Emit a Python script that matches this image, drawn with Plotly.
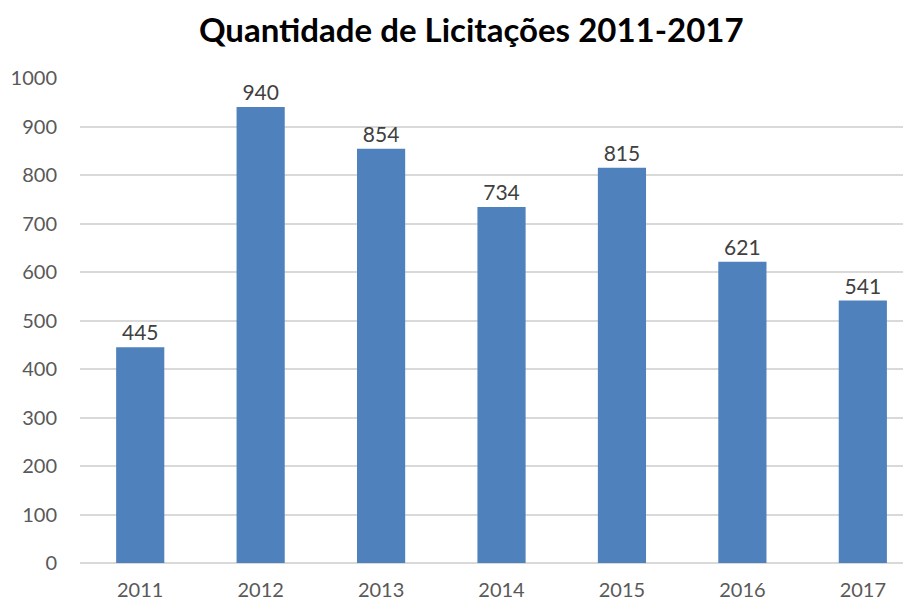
import plotly.graph_objects as go

years = ["2011", "2012", "2013", "2014", "2015", "2016", "2017"]
values = [445, 940, 854, 734, 815, 621, 541]
y_ticks = [0, 100, 200, 300, 400, 500, 600, 700, 800, 900, 1000]

fig = go.Figure(go.Bar(
    x=years, y=values,
    marker=dict(color="#4F81BD", line=dict(width=0)),
    text=[str(v) for v in values],
    textposition="outside",
    textfont=dict(family="Lato", size=21, color="#404040"),
    cliponaxis=False,
))

fig.update_layout(
    width=903, height=594,
    margin=dict(l=72, r=0, t=70, b=39, autoexpand=False),
    paper_bgcolor="white", plot_bgcolor="white",
    bargap=0.6,
    showlegend=False,
    title=dict(text="<b>Quantidade de Licitações 2011-2017</b>",
               x=0.513, xanchor="center", xref="container",
               y=0.962, yanchor="middle", yref="container",
               font=dict(family="Lato", size=33, color="black"),
               automargin=False),
    xaxis=dict(type="category", range=[-0.5, 6.4], showgrid=False,
               showline=False, zeroline=False, automargin=False,
               tickfont=dict(family="Lato", size=20, color="#595959"),
               ticklabelstandoff=13),
    yaxis=dict(range=[0, 1000], tickvals=y_ticks, showgrid=True,
               gridcolor="#D9D9D9", gridwidth=1.5, automargin=False,
               zeroline=True, zerolinecolor="#D9D9D9", zerolinewidth=1.5,
               showline=False,
               tickfont=dict(family="Lato", size=20, color="#595959"),
               ticklabelstandoff=22),
)

fig.write_html("out.html")
